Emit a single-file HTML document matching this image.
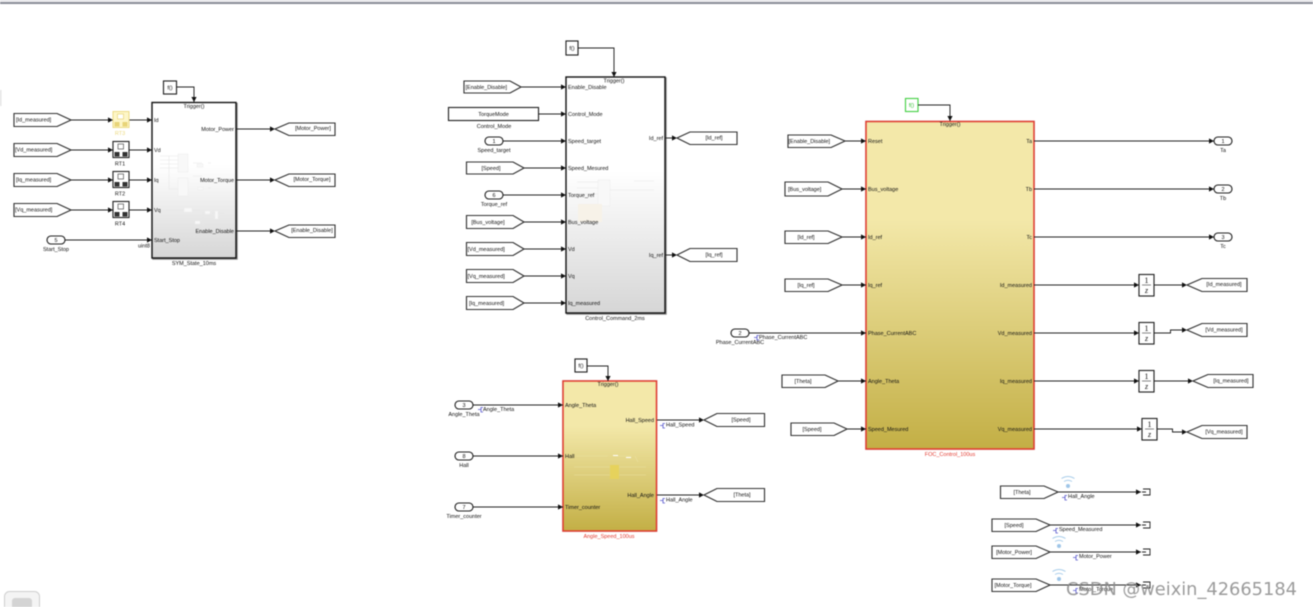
<!DOCTYPE html>
<html><head><meta charset="utf-8">
<style>
html,body{margin:0;padding:0;background:#fff;width:1313px;height:607px;overflow:hidden}
svg{display:block;filter:blur(.45px)}
text{font-family:"Liberation Sans",sans-serif;font-size:5.5px;fill:#111}
.m{text-anchor:middle}.e{text-anchor:end}
.tag{fill:#fff;stroke:#333;stroke-width:1.1;filter:drop-shadow(.9px .9px 0 #888)}
.box{fill:#fff;stroke:#222;stroke-width:1.1;filter:drop-shadow(.9px .9px 0 #888)}
.w{fill:none;stroke:#222;stroke-width:.9}
.l{fill:none;stroke:#222;stroke-width:.95;marker-end:url(#a)}
.f{fill:none;stroke:#e6e6e6;stroke-width:.6}
.g{fill:#f8f8f8;stroke:#ececec;stroke-width:.5}
.s{fill:none;stroke:#5555cc;stroke-width:.8}
.wf{fill:none;stroke:#a9cdea;stroke-width:1}
.one{font:8px "Liberation Serif",serif}
.zed{font:italic 8px "Liberation Serif",serif}
</style></head><body>
<svg width="1313" height="607" viewBox="0 0 1313 607" xmlns="http://www.w3.org/2000/svg">
<defs>
<marker id="a" markerUnits="userSpaceOnUse" markerWidth="6" markerHeight="6" refX="5" refY="3" orient="auto"><path d="M0 .4L5 3L0 5.6z" fill="#111"/></marker>
<linearGradient id="gr" x1="0" y1="0" x2="0" y2="1"><stop offset=".4" stop-color="#fff"/><stop offset="1" stop-color="#d6d6d6"/></linearGradient>
<linearGradient id="ye" x1="0" y1="0" x2="0" y2="1"><stop offset=".3" stop-color="#f3e8a9"/><stop offset="1" stop-color="#c3af45"/></linearGradient>
</defs>
<rect width="1313" height="607" fill="#fff"/>
<rect x="0" y="0" width="1313" height="1.5" fill="#e6e6ea"/>
<rect x="0" y="2" width="1313" height="2" fill="#888b96"/>
<rect x="0" y="90" width="1.5" height="16" fill="#e4e4e4"/>
<rect x="4.500" y="591.500" width="35" height="20" rx="5" fill="#f4f4f4" stroke="#cfcfcf"/>
<rect x="12" y="598" width="20" height="12" rx="3" fill="#d4d4d4"/>

<!-- Block 1 -->
<rect x="152" y="102.500" width="84" height="155.500" fill="url(#gr)" stroke="#111" stroke-width="1.4" style="filter:drop-shadow(1px 1px 0 #888)"/>
<path class="f" d="M160 156h18M160 160h18M160 164h18M160 168h18M169 156v33h9M178 184h10M193 163h9M208 163h3M193 176h9M208 188h3M166 210h18M190 210h10M203 212v19h-6M212 213h12"/>
<rect class="g" x="178" y="154" width="10" height="18"/><rect class="g" x="178" y="178" width="10" height="18"/><rect class="g" x="184" y="208" width="8" height="4"/><rect class="g" x="197" y="164" width="6" height="3"/><rect class="g" x="198" y="187" width="5" height="3"/><rect class="g" x="205" y="211" width="5" height="3"/><rect class="g" x="215" y="211" width="3" height="8"/><rect class="g" x="195" y="221" width="5" height="3"/>
<rect class="box" x="163.500" y="81" width="13" height="13"/><text class="m" x="170" y="89.500">f()</text>
<path class="l" d="M177 87H194V102"/><text class="m" x="194" y="108">Trigger()</text>
<path class="tag" d="M14 113.500H57L71 120L57 126.500H14z"/><text x="16" y="121.500">[Id_measured]</text>
<path class="tag" d="M14 143.500H57L71 150L57 156.500H14z"/><text x="15" y="151.500">[Vd_measured]</text>
<path class="tag" d="M14 173.500H57L71 180L57 186.500H14z"/><text x="16" y="181.500">[Iq_measured]</text>
<path class="tag" d="M14 203.500H57L71 210L57 216.500H14z"/><text x="15" y="211.500">[Vq_measured]</text>
<path class="l" d="M71 120H113"/><path class="l" d="M71 150H113"/><path class="l" d="M71 180H113"/><path class="l" d="M71 210H113"/>
<path class="l" d="M129 120H152"/><path class="l" d="M129 150H152"/><path class="l" d="M129 180H152"/><path class="l" d="M129 210H152"/>
<!-- RT blocks -->
<rect x="113" y="111.500" width="16" height="16" fill="#fdf6c8" stroke="#ecd97c" stroke-width=".9"/><rect x="117.500" y="114" width="6" height="5" fill="#fff" stroke="#e4cf66" stroke-width=".6"/><rect x="114.500" y="122" width="5" height="4.500" fill="#e8d478"/><rect x="122.500" y="122" width="5" height="4.500" fill="#e8d478"/><text class="m" x="120" y="135" style="fill:#ecd97c">RT3</text>
<rect class="box" x="113" y="141.500" width="16" height="16"/><rect x="118" y="144" width="5.500" height="5" fill="#fff" stroke="#333" stroke-width=".6"/><rect x="114.500" y="152" width="5" height="4.500" fill="#333"/><rect x="122.500" y="152" width="5" height="4.500" fill="#333"/><text class="m" x="120" y="165.500">RT1</text>
<rect class="box" x="113" y="171.500" width="16" height="16"/><rect x="118" y="174" width="5.500" height="5" fill="#fff" stroke="#333" stroke-width=".6"/><rect x="114.500" y="182" width="5" height="4.500" fill="#333"/><rect x="122.500" y="182" width="5" height="4.500" fill="#333"/><text class="m" x="120" y="195.500">RT2</text>
<rect class="box" x="113" y="201.500" width="16" height="16"/><rect x="118" y="204" width="5.500" height="5" fill="#fff" stroke="#333" stroke-width=".6"/><rect x="114.500" y="212" width="5" height="4.500" fill="#333"/><rect x="122.500" y="212" width="5" height="4.500" fill="#333"/><text class="m" x="120" y="225.500">RT4</text>
<rect class="box" x="47" y="236" width="18" height="8" rx="4"/><text class="m" x="56" y="242">5</text><text class="m" x="56" y="251">Start_Stop</text>
<path class="l" d="M65 240H152"/><text x="138" y="247.500">uint8</text>
<text x="154" y="122">Id</text><text x="154" y="152">Vd</text><text x="154" y="182">Iq</text><text x="154" y="212">Vq</text><text x="154" y="242">Start_Stop</text>
<text class="e" x="234" y="131">Motor_Power</text><text class="e" x="234" y="182">Motor_Torque</text><text class="e" x="234" y="233">Enable_Disable</text>
<text class="m" x="194" y="265">SYM_State_10ms</text>
<path class="l" d="M236 129H275"/><path class="l" d="M236 180H275"/><path class="l" d="M236 231H275"/>
<path class="tag" d="M275 129L289 123H335V135.500H289z"/><text class="m" x="313" y="130">[Motor_Power]</text>
<path class="tag" d="M275 180L289 174H335V186.500H289z"/><text class="m" x="312" y="181">[Motor_Torque]</text>
<path class="tag" d="M275 231L289 225H335V237.500H289z"/><text class="m" x="312" y="232">[Enable_Disable]</text>

<!-- Block 2 -->
<rect x="566" y="77" width="99" height="236" fill="url(#gr)" stroke="#111" stroke-width="1.4" style="filter:drop-shadow(1px 1px 0 #888)"/>
<path class="f" d="M577 182H599M577 188H599M577 194H599M599 190H654M634 181H654"/>
<rect class="g" x="598" y="180" width="12" height="26"/><rect x="578" y="204" width="24" height="18" fill="#f7f2e8"/>
<rect class="box" x="566" y="41" width="12" height="14"/><text class="m" x="572" y="50">f()</text>
<path class="l" d="M578 48H614V77"/><text class="m" x="614" y="82.500">Trigger()</text>
<path class="tag" d="M464 81H510L521 87L510 93H464z"/><text x="465.500" y="89">[Enable_Disable]</text>
<rect class="box" x="448.500" y="107.500" width="90" height="13"/><text class="m" x="493.500" y="116">TorqueMode</text><text class="m" x="494" y="128">Control_Mode</text>
<rect class="box" x="485" y="137" width="18" height="8" rx="4"/><text class="m" x="494" y="143">1</text><text class="m" x="494" y="152">Speed_target</text>
<path class="tag" d="M466.500 162H513L524 168L513 174H466.500z"/><text class="m" x="491" y="170">[Speed]</text>
<rect class="box" x="485" y="191" width="18" height="8" rx="4"/><text class="m" x="494" y="197">6</text><text class="m" x="494" y="206">Torque_ref</text>
<path class="tag" d="M466.500 215.500H513L524 222L513 228.500H466.500z"/><text class="m" x="488" y="224">[Bus_voltage]</text>
<path class="tag" d="M466.500 242.500H513L524 249L513 255.500H466.500z"/><text x="467.500" y="251">[Vd_measured]</text>
<path class="tag" d="M466.500 269.500H513L524 276L513 282.500H466.500z"/><text x="467.500" y="278">[Vq_measured]</text>
<path class="tag" d="M466.500 296.500H513L524 303L513 309.500H466.500z"/><text x="469" y="305">[Iq_measured]</text>
<path class="l" d="M521 87H566"/><path class="l" d="M539 114H566"/><path class="l" d="M503 141H566"/><path class="l" d="M524 168H566"/><path class="l" d="M503 195H566"/><path class="l" d="M524 222H566"/><path class="l" d="M524 249H566"/><path class="l" d="M524 276H566"/><path class="l" d="M524 303H566"/>
<text x="568" y="89">Enable_Disable</text><text x="568" y="116">Control_Mode</text><text x="568" y="143">Speed_target</text><text x="568" y="170">Speed_Mesured</text><text x="568" y="197">Torque_ref</text><text x="568" y="224">Bus_voltage</text><text x="568" y="251">Vd</text><text x="568" y="278">Vq</text><text x="568" y="305">Iq_measured</text>
<text class="e" x="663" y="140">Id_ref</text><text class="e" x="663" y="257">Iq_ref</text>
<text class="m" x="615" y="320">Control_Command_2ms</text>
<path class="l" d="M665 138H677"/><path class="l" d="M665 255H677"/>
<path class="tag" d="M677 138L690 132H737V144.500H690z"/><text class="m" x="714" y="139.500">[Id_ref]</text>
<path class="tag" d="M677 255L690 248.500H737V261.500H690z"/><text class="m" x="714" y="256.500">[Iq_ref]</text>

<!-- Block 3 -->
<rect x="563" y="381" width="93.500" height="150" fill="url(#ye)" stroke="#e23a30" stroke-width="1.5" style="filter:drop-shadow(.8px .8px 0 #aaa)"/>
<path d="M576 456H608M615 456H632M574 467H646M574 475H646M635 456L638 462" fill="none" stroke="#e8dfa0" stroke-width=".6"/>
<rect x="610" y="465" width="9" height="14" fill="#e6d25c"/><rect x="613" y="455" width="5" height="1" fill="#fff"/><rect x="626" y="457" width="5" height="1" fill="#fff"/>
<rect class="box" x="575" y="359" width="12" height="13"/><text class="m" x="581" y="367.500">f()</text>
<path class="l" d="M587 366H608V381"/><text class="m" x="608" y="386">Trigger()</text>
<rect class="box" x="455" y="401" width="18" height="8" rx="4"/><text class="m" x="464" y="407">3</text><text class="m" x="464" y="416">Angle_Theta</text>
<rect class="box" x="455" y="452" width="18" height="8" rx="4"/><text class="m" x="464" y="458">8</text><text class="m" x="464" y="467">Hall</text>
<rect class="box" x="455" y="503" width="18" height="8" rx="4"/><text class="m" x="464" y="509">7</text><text class="m" x="464" y="518">Timer_counter</text>
<path class="l" d="M473 405H563"/><path class="l" d="M473 456H563"/><path class="l" d="M473 507H563"/>
<path class="s" d="M478 409.500H481M483 407.500H481V412H483"/><text x="483" y="411">Angle_Theta</text>
<text x="565" y="407">Angle_Theta</text><text x="565" y="458">Hall</text><text x="565" y="509">Timer_counter</text>
<text class="e" x="654" y="422">Hall_Speed</text><text class="e" x="654" y="497">Hall_Angle</text>
<text class="m" x="609" y="538" style="fill:#e23a30">Angle_Speed_100us</text>
<path class="l" d="M657 420H704"/><path class="l" d="M657 495H704"/>
<path class="s" d="M660 425.500H663M665 423.500H663V428H665"/><text x="666" y="426.500">Hall_Speed</text>
<path class="s" d="M660 500.500H663M665 498.500H663V503H665"/><text x="666" y="501.500">Hall_Angle</text>
<path class="tag" d="M704 420L717 413.500H764.500V426.500H717z"/><text class="m" x="741" y="421.500">[Speed]</text>
<path class="tag" d="M704 495L717 488.500H764.500V501.500H717z"/><text class="m" x="742" y="496.500">[Theta]</text>

<!-- Block 4 -->
<rect x="866" y="121.500" width="168" height="327.500" fill="url(#ye)" stroke="#e23a30" stroke-width="1.5" style="filter:drop-shadow(.8px .8px 0 #aaa)"/>
<rect x="905.500" y="98.500" width="12.500" height="13" fill="#fff" stroke="#44d244" stroke-width="1.1" style="filter:drop-shadow(.8px .8px 0 #aaa)"/><text class="m" x="911.500" y="107" style="fill:#30c030">f()</text>
<path class="l" d="M918 105H950V121"/><text class="m" x="950" y="126">Trigger()</text>
<path class="tag" d="M788 135H831L845 141L831 147.500H788z"/><text x="788.500" y="143">[Enable_Disable]</text>
<path class="tag" d="M785 182H828L842 189L828 196H785z"/><text x="788" y="191">[Bus_voltage]</text>
<path class="tag" d="M785 231H828L842 237L828 243.500H785z"/><text class="m" x="806" y="239">[Id_ref]</text>
<path class="tag" d="M785 279H828L842 285L828 291.500H785z"/><text class="m" x="806" y="287">[Iq_ref]</text>
<rect class="box" x="731" y="329" width="18" height="8" rx="4"/><text class="m" x="740" y="335">2</text><text class="m" x="740" y="344">Phase_CurrentABC</text>
<path class="s" d="M754 337.500H757M759 335.500H757V340H759"/><text x="759" y="339">Phase_CurrentABC</text>
<path class="tag" d="M782 375H825L838 381L825 387.500H782z"/><text class="m" x="803" y="383">[Theta]</text>
<path class="tag" d="M791 423H834L847 429L834 435.500H791z"/><text class="m" x="812" y="431">[Speed]</text>
<path class="l" d="M845 141H866"/><path class="l" d="M842 189H866"/><path class="l" d="M842 237H866"/><path class="l" d="M842 285H866"/><path class="l" d="M749 333H866"/><path class="l" d="M838 381H866"/><path class="l" d="M847 429H866"/>
<text x="868" y="143">Reset</text><text x="868" y="191">Bus_voltage</text><text x="868" y="239">Id_ref</text><text x="868" y="287">Iq_ref</text><text x="868" y="335">Phase_CurrentABC</text><text x="868" y="383">Angle_Theta</text><text x="868" y="431">Speed_Mesured</text>
<text class="e" x="1032" y="143">Ta</text><text class="e" x="1032" y="191">Tb</text><text class="e" x="1032" y="239">Tc</text><text class="e" x="1032" y="287">Id_measured</text><text class="e" x="1032" y="335">Vd_measured</text><text class="e" x="1032" y="383">Iq_measured</text><text class="e" x="1032" y="431">Vq_measured</text>
<text class="m" x="950" y="456" style="fill:#e23a30">FOC_Control_100us</text>
<path class="l" d="M1034 141H1214"/><path class="l" d="M1034 189H1214"/><path class="l" d="M1034 237H1214"/>
<rect class="box" x="1214" y="137" width="18" height="8" rx="4"/><text class="m" x="1223" y="143">1</text><text class="m" x="1223" y="152">Ta</text>
<rect class="box" x="1214" y="185" width="18" height="8" rx="4"/><text class="m" x="1223" y="191">2</text><text class="m" x="1223" y="200">Tb</text>
<rect class="box" x="1214" y="233" width="18" height="8" rx="4"/><text class="m" x="1223" y="239">3</text><text class="m" x="1223" y="248">Tc</text>
<path class="l" d="M1034 285H1139"/><path class="l" d="M1034 333H1139"/><path class="l" d="M1034 381H1139"/><path class="l" d="M1034 429H1142"/>
<rect class="box" x="1139" y="274.500" width="15" height="21.500"/><path d="M1142 285H1151" stroke="#333" stroke-width=".6"/><text class="m one" x="1146.500" y="283">1</text><text class="m zed" x="1146.500" y="293">z</text>
<rect class="box" x="1139" y="322.500" width="15" height="21.500"/><path d="M1142 333H1151" stroke="#333" stroke-width=".6"/><text class="m one" x="1146.500" y="331">1</text><text class="m zed" x="1146.500" y="341">z</text>
<rect class="box" x="1139" y="370.500" width="15" height="21.500"/><path d="M1142 381H1151" stroke="#333" stroke-width=".6"/><text class="m one" x="1146.500" y="379">1</text><text class="m zed" x="1146.500" y="389">z</text>
<rect class="box" x="1142" y="418.500" width="15" height="21.500"/><path d="M1145 429H1154" stroke="#333" stroke-width=".6"/><text class="m one" x="1149.500" y="427">1</text><text class="m zed" x="1149.500" y="437">z</text>
<path class="l" d="M1154 285H1187"/><path class="l" d="M1154 333H1170.500V330H1187"/><path class="l" d="M1154 381H1193"/><path class="l" d="M1157 429H1172.500V432H1187"/>
<path class="tag" d="M1187 285L1202 278.500H1247V291.500H1202z"/><text class="m" x="1224" y="286">[Id_measured]</text>
<path class="tag" d="M1187 330L1202 323.500H1247V336.500H1202z"/><text class="m" x="1224" y="331.500">[Vd_measured]</text>
<path class="tag" d="M1193 381L1208 374.500H1253V387.500H1208z"/><text class="m" x="1231" y="382.500">[Iq_measured]</text>
<path class="tag" d="M1187 432L1202 425.500H1247V438.500H1202z"/><text class="m" x="1224" y="433.500">[Vq_measured]</text>

<!-- Bottom group -->
<path class="tag" d="M1000.500 486H1044L1058 492L1044 498.500H1000.500z"/><text class="m" x="1022" y="494">[Theta]</text>
<path class="tag" d="M992 519H1036L1050 525L1036 531.500H992z"/><text class="m" x="1014" y="527">[Speed]</text>
<path class="tag" d="M992 546H1036L1050 552L1036 558.500H992z"/><text class="m" x="1014" y="554">[Motor_Power]</text>
<path class="tag" d="M992 579H1036L1050 585L1036 591.500H992z"/><text class="m" x="1013" y="587">[Motor_Torque]</text>
<path class="l" d="M1058 492H1141"/><path class="l" d="M1050 525H1141"/><path class="l" d="M1050 552H1141"/><path class="l" d="M1050 585H1141"/>
<path class="w" d="M1143 489H1150V495H1143M1142 492H1146"/><path class="w" d="M1143 522H1150V528H1143M1142 525H1146"/><path class="w" d="M1143 549H1150V555H1143M1142 552H1146"/><path class="w" d="M1143 582H1150V588H1143M1142 585H1146"/>
<circle cx="1068" cy="486" r="2" fill="#9fc6e8"/><path class="wf" d="M1064 481.500Q1068 479 1072 481.500M1061.500 478.500Q1068 474.500 1074.500 478.500"/>
<circle cx="1059" cy="546" r="2" fill="#9fc6e8"/><path class="wf" d="M1055 541.500Q1059 539 1063 541.500M1052.500 538.500Q1059 534.500 1065.500 538.500"/>
<circle cx="1059" cy="579" r="2" fill="#9fc6e8"/><path class="wf" d="M1055 574.500Q1059 572 1063 574.500M1052.500 571.500Q1059 567.500 1065.500 571.500"/>
<path class="s" d="M1062 497.500H1065M1067 495.500H1065V500H1067"/><text x="1068" y="498">Hall_Angle</text>
<path class="s" d="M1053 530.500H1056M1058 528.500H1056V533H1058"/><text x="1059" y="531">Speed_Measured</text>
<path class="s" d="M1073 557.500H1076M1078 555.500H1076V560H1078"/><text x="1079" y="558">Motor_Power</text>
<path class="s" d="M1073 590.500H1076M1078 588.500H1076V593H1078"/><text x="1079" y="591">Motor_Torque</text>
<text x="1066" y="595" textLength="231" lengthAdjust="spacingAndGlyphs" style="font:18px 'DejaVu Sans',sans-serif;fill:#8a8a8a;fill-opacity:.85">CSDN @weixin_42665184</text>
</svg>
</body></html>
